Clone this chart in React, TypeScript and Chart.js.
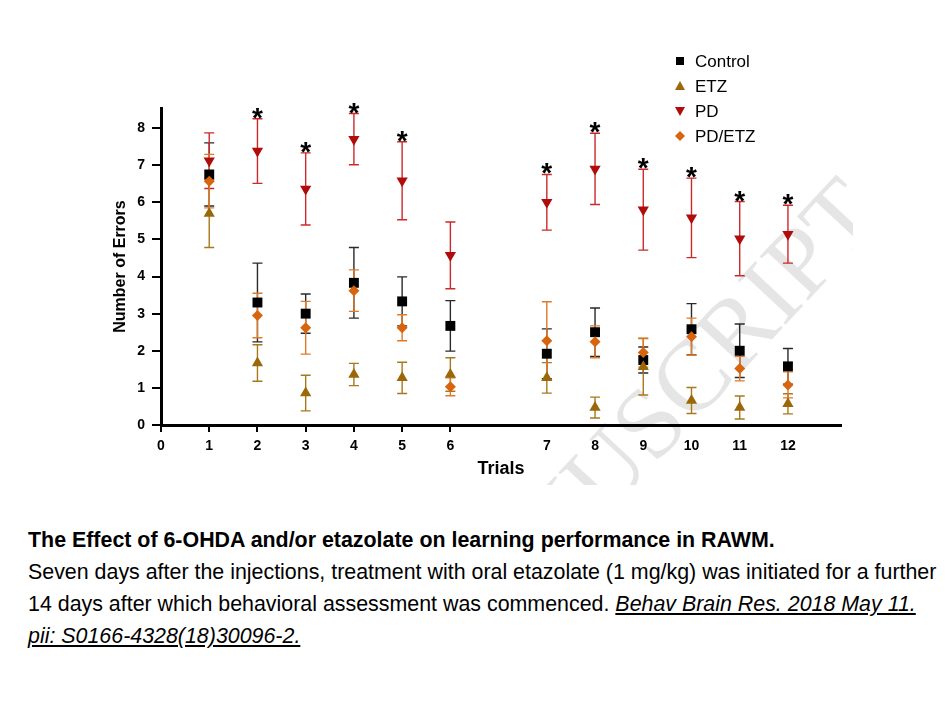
import React, { useEffect, useRef } from "react";
import { Chart, registerables } from "chart.js";

Chart.register(...registerables);

const trials = [1, 2, 3, 4, 5, 6, 7, 8, 9, 10, 11, 12];
// position of each trial on the x scale (gap between trial 6 and 7)
const xPositions = [1, 2, 3, 4, 5, 6, 8, 9, 10, 11, 12, 13];
const tickPositions = [0, 1, 2, 3, 4, 5, 6, 8, 9, 10, 11, 12, 13];
const tickLabels = ["0", "1", "2", "3", "4", "5", "6", "7", "8", "9", "10", "11", "12"];
const yTicks = [0, 1, 2, 3, 4, 5, 6, 7, 8];

const controlMean = [6.75, 3.3, 3.0, 3.83, 3.33, 2.67, 1.92, 2.5, 1.75, 2.58, 2.0, 1.58];
const controlErr = [0.85, 1.06, 0.53, 0.95, 0.66, 0.68, 0.67, 0.65, 0.35, 0.69, 0.72, 0.48];
const etzMean = [5.7, 1.67, 0.86, 1.36, 1.27, 1.36, 1.27, 0.47, 1.57, 0.66, 0.47, 0.57];
const etzErr = [0.92, 0.49, 0.48, 0.3, 0.42, 0.45, 0.41, 0.28, 0.76, 0.35, 0.31, 0.27];
const pdMean = [7.12, 7.38, 6.36, 7.7, 6.58, 4.57, 6.0, 6.9, 5.8, 5.58, 5.02, 5.14];
const pdErr = [0.75, 0.87, 0.97, 0.69, 1.05, 0.9, 0.75, 0.96, 1.09, 1.07, 1.0, 0.78];
const pdEtzMean = [6.57, 2.95, 2.62, 3.62, 2.62, 1.03, 2.27, 2.24, 1.95, 2.38, 1.52, 1.08];
const pdEtzErr = [0.72, 0.6, 0.71, 0.56, 0.35, 0.24, 1.05, 0.43, 0.39, 0.5, 0.33, 0.35];
const significant = [false, true, true, true, true, false, true, true, true, true, true, true];

const seriesNames = ["Control", "ETZ", "PD", "PD/ETZ"];
const watermarkText = "ACCEPTED MANUSCRIPT";

const FONT = "'Liberation Sans', Arial, sans-serif";

type Series = {
  label: string;
  mean: number[];
  err: number[];
  color: string;
  barColor: string;
  style: string;
  rotation: number;
  radius: number;
};

const series: Series[] = [
  { label: seriesNames[0], mean: controlMean, err: controlErr, color: "#000000", barColor: "#2a2a2a", style: "rect", rotation: 0, radius: 7 },
  { label: seriesNames[1], mean: etzMean, err: etzErr, color: "#9a6808", barColor: "#a8781e", style: "triangle", rotation: 0, radius: 6.5 },
  { label: seriesNames[2], mean: pdMean, err: pdErr, color: "#b00c0c", barColor: "#cc2a2a", style: "triangle", rotation: 180, radius: 6.5 },
  { label: seriesNames[3], mean: pdEtzMean, err: pdEtzErr, color: "#d8640e", barColor: "#e07a2a", style: "rectRot", rotation: 0, radius: 5.5 },
];

const errorBarPlugin = {
  id: "errorBars",
  beforeDatasetsDraw(chart: any) {
    const { ctx, scales } = chart;
    const xs = scales.x;
    const ys = scales.y;
    // faint watermark behind the marks
    ctx.save();
    ctx.beginPath();
    ctx.rect(0, 0, 845, 477);
    ctx.clip();
    ctx.translate(858, 192);
    ctx.rotate((-47 * Math.PI) / 180);
    ctx.fillStyle = "rgba(0,0,0,0.1)";
    ctx.font = `100px 'Liberation Serif', 'Times New Roman', serif`;
    ctx.textAlign = "right";
    ctx.textBaseline = "middle";
    ctx.fillText(watermarkText, 0, 0);
    ctx.restore();

    ctx.save();
    series.forEach((s) => {
      ctx.strokeStyle = s.barColor;
      ctx.lineWidth = 1.4;
      s.mean.forEach((m, i) => {
        const x = xs.getPixelForValue(xPositions[i]);
        const yTop = ys.getPixelForValue(m + s.err[i]);
        const yBot = ys.getPixelForValue(m - s.err[i]);
        ctx.beginPath();
        ctx.moveTo(x, yTop);
        ctx.lineTo(x, yBot);
        ctx.moveTo(x - 5, yTop);
        ctx.lineTo(x + 5, yTop);
        ctx.moveTo(x - 5, yBot);
        ctx.lineTo(x + 5, yBot);
        ctx.stroke();
      });
    });
    ctx.restore();
  },
  afterDatasetsDraw(chart: any) {
    const { ctx, scales } = chart;
    const xs = scales.x;
    const ys = scales.y;
    ctx.save();
    ctx.fillStyle = "#000";
    ctx.font = `bold 28px ${FONT}`;
    ctx.textAlign = "center";
    ctx.textBaseline = "alphabetic";
    significant.forEach((sig, i) => {
      if (!sig) return;
      const x = xs.getPixelForValue(xPositions[i]);
      const yTop = ys.getPixelForValue(pdMean[i] + pdErr[i]);
      ctx.fillText("*", x, yTop + 8);
    });
    ctx.restore();
  },
  afterDraw(chart: any) {
    const { ctx } = chart;
    ctx.save();
    const mx = 672;
    const tx = 687;
    series.forEach((s, i) => {
      const y = 53 + i * 25;
      ctx.fillStyle = s.color;
      ctx.beginPath();
      if (s.style === "rect") {
        ctx.rect(mx - 4, y - 4, 8, 8);
      } else if (s.style === "triangle" && s.rotation === 0) {
        ctx.moveTo(mx, y - 5);
        ctx.lineTo(mx + 5, y + 4);
        ctx.lineTo(mx - 5, y + 4);
        ctx.closePath();
      } else if (s.style === "triangle") {
        ctx.moveTo(mx, y + 5);
        ctx.lineTo(mx + 5, y - 4);
        ctx.lineTo(mx - 5, y - 4);
        ctx.closePath();
      } else {
        ctx.moveTo(mx, y - 5);
        ctx.lineTo(mx + 5, y);
        ctx.lineTo(mx, y + 5);
        ctx.lineTo(mx - 5, y);
        ctx.closePath();
      }
      ctx.fill();
      ctx.fillStyle = "#000";
      ctx.font = `17px ${FONT}`;
      ctx.textAlign = "left";
      ctx.textBaseline = "middle";
      ctx.fillText(s.label, tx, y + 1);
    });
    ctx.restore();
  },
};

function ChartView() {
  const ref = useRef<HTMLCanvasElement | null>(null);
  useEffect(() => {
    if (!ref.current) return;
    const chart = new Chart(ref.current, {
      type: "scatter",
      data: {
        datasets: series.map((s, si) => ({
          label: s.label,
          data: trials.map((t, i) => ({ x: xPositions[i], y: s.mean[i] })),
          backgroundColor: s.color,
          borderColor: s.color,
          borderWidth: 0,
          pointStyle: s.style as any,
          rotation: s.rotation,
          pointRadius: s.radius,
          pointHoverRadius: s.radius,
          order: 4 - si,
        })),
      },
      options: {
        animation: false,
        responsive: false,
        maintainAspectRatio: false,
        events: [],
        layout: { padding: { left: 95, top: 100, right: 96, bottom: 0 } },
        plugins: {
          legend: { display: false },
          tooltip: { enabled: false },
          title: { display: false },
        },
        scales: {
          x: {
            type: "linear",
            min: 0,
            max: 14.1,
            afterBuildTicks: (axis: any) => {
              axis.ticks = tickPositions.map((v) => ({ value: v }));
            },
            afterFit: (axis: any) => {
              axis.height = 73;
            },
            ticks: {
              autoSkip: false,
              maxRotation: 0,
              color: "#000",
              padding: 6,
              font: { family: FONT, size: 14, weight: "bold" },
              callback: (v: any) => {
                const idx = tickPositions.indexOf(Number(v));
                return idx >= 0 ? tickLabels[idx] : "";
              },
            },
            grid: {
              display: true,
              drawOnChartArea: false,
              drawTicks: true,
              tickLength: 7,
              color: (c: any) => (c.tick && c.tick.value <= 6 ? "#000" : "rgba(0,0,0,0)"),
              lineWidth: 2,
            },
            border: { display: true, color: "#000", width: 3 },
            title: {
              display: true,
              text: "Trials",
              color: "#000",
              font: { family: FONT, size: 18, weight: "bold" },
              padding: { top: 0, bottom: 18 },
            },
          },
          y: {
            type: "linear",
            min: 0,
            max: 8.54,
            afterBuildTicks: (axis: any) => {
              axis.ticks = yTicks.map((v) => ({ value: v }));
            },
            afterFit: (axis: any) => {
              axis.width = 58;
            },
            ticks: {
              color: "#000",
              padding: 7,
              font: { family: FONT, size: 14, weight: "bold" },
              callback: (v: any) => String(v),
            },
            grid: {
              display: true,
              drawOnChartArea: false,
              drawTicks: true,
              tickLength: 9,
              color: "#000",
              lineWidth: 2,
            },
            border: { display: true, color: "#000", width: 3 },
            title: {
              display: true,
              text: "Number of Errors",
              color: "#000",
              font: { family: FONT, size: 16, weight: "bold" },
              padding: { top: 8, bottom: 0 },
            },
          },
        },
      },
      plugins: [errorBarPlugin],
    } as any);
    return () => chart.destroy();
  }, []);
  return <canvas ref={ref} width={929} height={490} style={{ display: "block", width: 929, height: 490 }} />;
}

const captionFont = "'Liberation Sans', Arial, sans-serif";

export default function App() {
  return (
    <div style={{ width: 929, background: "#fff" }}>
      <ChartView />
      <div
        style={{
          marginTop: 26,
          paddingLeft: 20,
          fontFamily: captionFont,
          fontSize: 21.4,
          lineHeight: "32px",
          color: "#000",
          whiteSpace: "nowrap",
        }}
      >
        <div style={{ fontWeight: "bold" }}>
          The Effect of 6-OHDA and/or etazolate on learning performance in RAWM.
        </div>
        <div>
          Seven days after the injections, treatment with oral etazolate (1 mg/kg) was initiated for a further
        </div>
        <div>
          14 days after which behavioral assessment was commenced.{" "}
          <span style={{ fontStyle: "italic", textDecoration: "underline" }}>Behav Brain Res. 2018 May 11. </span>
        </div>
        <div>
          <span style={{ fontStyle: "italic", textDecoration: "underline" }}>pii: S0166-4328(18)30096-2.</span>
        </div>
      </div>
    </div>
  );
}
